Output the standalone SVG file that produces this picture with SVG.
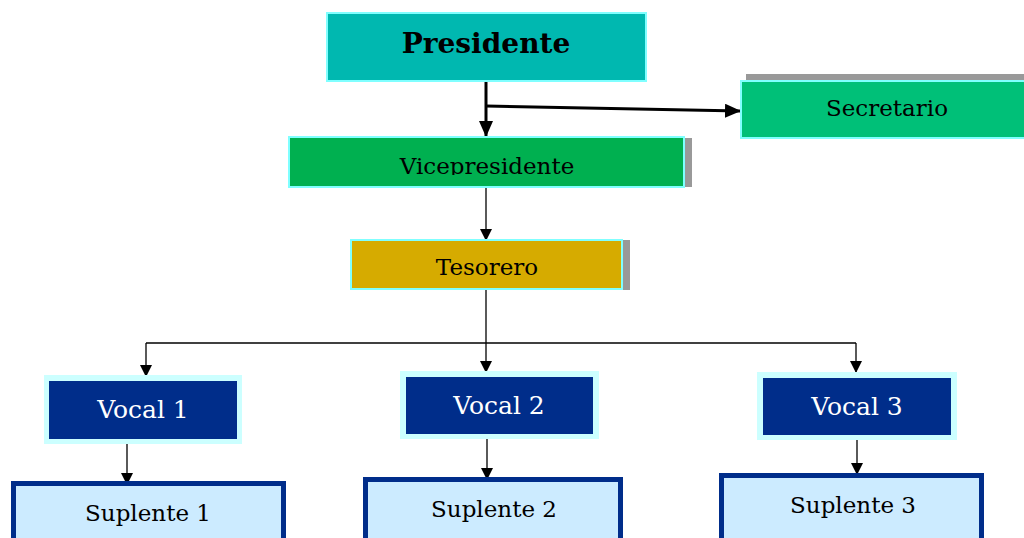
<svg xmlns="http://www.w3.org/2000/svg" width="1024" height="538" viewBox="0 0 1024 538">
<style>
text{font-family:"DejaVu Serif","Liberation Serif",serif;text-anchor:middle;fill:#000}
.lbl{font-size:23px}
.white{fill:#fff;font-size:25px}
.box{stroke:#80FFFF;stroke-width:2}
.shadow{fill:#999}
.vocal-outer{fill:#CCFFFF}
.vocal-inner{fill:#002D8A}
.sup{fill:#CCEBFF;stroke:#002D8A;stroke-width:5}
.thin{stroke:#000;stroke-width:1.3;fill:none}
.thick{stroke:#000;stroke-width:3;fill:none}
</style>
<defs>
<marker id="ah" markerWidth="12" markerHeight="12" refX="11" refY="6" orient="auto" markerUnits="userSpaceOnUse">
<path d="M0,0 L12,6 L0,12 z" fill="#000"/>
</marker>
<marker id="ahb" markerWidth="16" markerHeight="14" refX="15" refY="7" orient="auto" markerUnits="userSpaceOnUse">
<path d="M0,0 L16,7 L0,14 z" fill="#000"/>
</marker>
<clipPath id="vclip"><rect x="289" y="137" width="395" height="38"/></clipPath>
</defs>

<g id="connectors">
<path class="thick" d="M486,81 V136" marker-end="url(#ahb)"/>
<path class="thick" d="M486,106 L740,111" marker-end="url(#ahb)"/>
<path class="thin" d="M486,187 V240" marker-end="url(#ah)"/>
<path class="thin" d="M486,289 V372" marker-end="url(#ah)"/>
<path class="thin" d="M146,343 H856"/>
<path class="thin" d="M146,343 V376" marker-end="url(#ah)"/>
<path class="thin" d="M856,343 V372" marker-end="url(#ah)"/>
<path class="thin" d="M127,444 V484" marker-end="url(#ah)"/>
<path class="thin" d="M487,439 V479" marker-end="url(#ah)"/>
<path class="thin" d="M857,440 V474" marker-end="url(#ah)"/>
</g>

<g id="presidente">
<rect class="box" x="327" y="13" width="319" height="68" fill="#00B8B0"/>
<text x="486" y="53" style="font-size:28px;font-weight:bold">Presidente</text>
</g>

<g id="secretario">
<rect class="shadow" x="746" y="74" width="278" height="8"/>
<rect class="box" x="741" y="81" width="290" height="57" fill="#00C078"/>
<text class="lbl" x="887" y="116">Secretario</text>
</g>

<g id="vicepresidente">
<rect class="shadow" x="684" y="138" width="8" height="49"/>
<rect class="box" x="289" y="137" width="395" height="50" fill="#00B050"/>
<text class="lbl" x="487" y="174" clip-path="url(#vclip)">Vicepresidente</text>
</g>

<g id="tesorero">
<rect class="shadow" x="622" y="240" width="8" height="50"/>
<rect class="box" x="351" y="240" width="271" height="49" fill="#D6AB00"/>
<text class="lbl" x="487" y="275">Tesorero</text>
</g>

<g id="vocal1">
<rect class="vocal-outer" x="44" y="375" width="198" height="69"/>
<rect class="vocal-inner" x="49" y="381" width="188" height="58"/>
<text class="white" x="143" y="418">Vocal 1</text>
</g>

<g id="vocal2">
<rect class="vocal-outer" x="400" y="371" width="199" height="68"/>
<rect class="vocal-inner" x="406" y="377" width="187" height="57"/>
<text class="white" x="499" y="414">Vocal 2</text>
</g>

<g id="vocal3">
<rect class="vocal-outer" x="757" y="372" width="200" height="68"/>
<rect class="vocal-inner" x="763" y="378" width="188" height="57"/>
<text class="white" x="857" y="415">Vocal 3</text>
</g>

<g id="suplente1">
<rect class="sup" x="13.5" y="483.5" width="270" height="70"/>
<text class="lbl" x="148" y="521">Suplente 1</text>
</g>

<g id="suplente2">
<rect class="sup" x="365.5" y="479.5" width="255" height="70"/>
<text class="lbl" x="494" y="517">Suplente 2</text>
</g>

<g id="suplente3">
<rect class="sup" x="721.5" y="475.5" width="260" height="70"/>
<text class="lbl" x="853" y="513">Suplente 3</text>
</g>
</svg>
